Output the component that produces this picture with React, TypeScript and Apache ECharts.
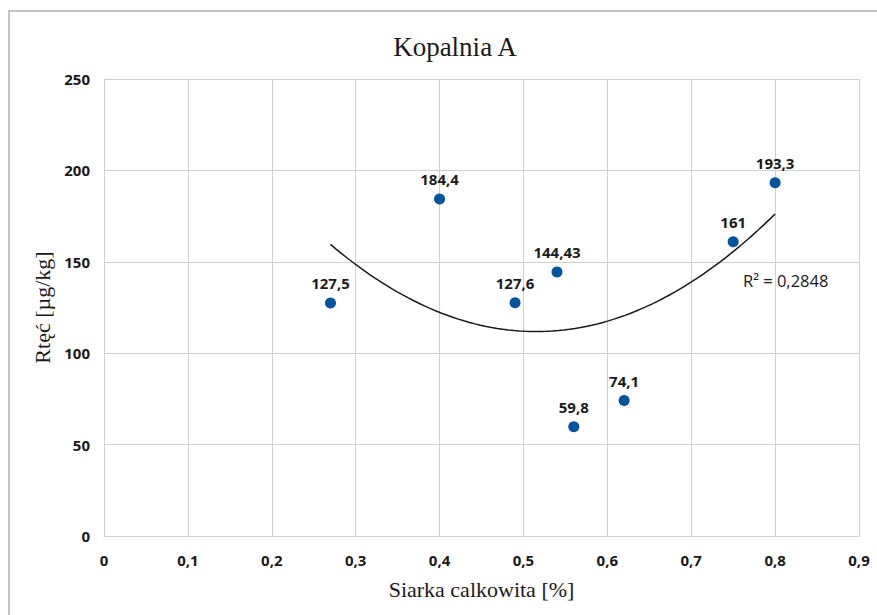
import React, { useEffect, useRef } from "react";
import * as echarts from "echarts";

const titleText = "Kopalnia A";
const xName = "Siarka calkowita [%]";
const yName = "Rtęć [µg/kg]";
const sulfur = [0.27, 0.4, 0.49, 0.54, 0.56, 0.62, 0.75, 0.8];
const mercury = [127.5, 184.4, 127.6, 144.43, 59.8, 74.1, 161, 193.3];
const pointLabels = ["127,5", "184,4", "127,6", "144,43", "59,8", "74,1", "161", "193,3"];
const r2Value = 0.2848;
const xTicks = { min: 0, max: 0.9, interval: 0.1 };
const yTicks = { min: 0, max: 250, interval: 50 };

function quadFit(xs: number[], ys: number[]) {
  let s0 = xs.length, s1 = 0, s2 = 0, s3 = 0, s4 = 0, t0 = 0, t1 = 0, t2 = 0;
  for (let i = 0; i < xs.length; i++) {
    const x = xs[i], y = ys[i];
    s1 += x; s2 += x * x; s3 += x * x * x; s4 += x * x * x * x;
    t0 += y; t1 += x * y; t2 += x * x * y;
  }
  const M = [
    [s0, s1, s2, t0],
    [s1, s2, s3, t1],
    [s2, s3, s4, t2],
  ];
  for (let i = 0; i < 3; i++) {
    let p = i;
    for (let r = i + 1; r < 3; r++) if (Math.abs(M[r][i]) > Math.abs(M[p][i])) p = r;
    [M[i], M[p]] = [M[p], M[i]];
    for (let r = 0; r < 3; r++) {
      if (r === i) continue;
      const f = M[r][i] / M[i][i];
      for (let c = i; c < 4; c++) M[r][c] -= f * M[i][c];
    }
  }
  return [M[0][3] / M[0][0], M[1][3] / M[1][1], M[2][3] / M[2][2]];
}

export default function App() {
  const ref = useRef<HTMLDivElement>(null);
  useEffect(() => {
    document.body.style.margin = "0";
    if (!ref.current) return;
    const chart = echarts.init(ref.current, null, { renderer: "svg" });
    const [a, b, c] = quadFit(sulfur, mercury);
    const xMin = Math.min(...sulfur);
    const xMax = Math.max(...sulfur);
    const trend: number[][] = [];
    const n = 80;
    for (let i = 0; i <= n; i++) {
      const x = xMin + ((xMax - xMin) * i) / n;
      trend.push([x, a + b * x + c * x * x]);
    }
    const comma = (v: number) => String(Math.round(v * 10) / 10).replace(".", ",");
    const tickFont = { fontFamily: "'Open Sans', sans-serif", fontWeight: "bold" as const, fontSize: 15, color: "#1a1a1a" };
    const grey = "#d0d0d0";
    chart.setOption({
      animation: false,
      backgroundColor: "#fff",
      title: {
        text: titleText,
        left: 450,
        textAlign: "center",
        top: 28,
        textStyle: { fontFamily: "'Liberation Serif', serif", fontWeight: "normal", fontSize: 27, color: "#1a1a1a" },
      },
      graphic: [
        {
          type: "rect",
          shape: { x: 9, y: 11, width: 900, height: 700 },
          style: { fill: "none", stroke: "#c4c4c4", lineWidth: 2 },
          silent: true,
        },
        {
          type: "text",
          x: 743,
          y: 280,
          style: {
            text: "R² = " + r2Value.toFixed(4).replace(".", ","),
            fontFamily: "'Open Sans', sans-serif",
            fontSize: 16.5,
            fill: "#1a1a1a",
            verticalAlign: "middle",
          },
        },
      ],
      grid: { left: 104, top: 79, right: 18, bottom: 79 },
      xAxis: {
        type: "value",
        min: xTicks.min,
        max: xTicks.max,
        interval: xTicks.interval,
        name: xName,
        nameLocation: "middle",
        nameGap: 42,
        nameTextStyle: { fontFamily: "'Liberation Serif', serif", fontSize: 22, color: "#1a1a1a" },
        axisLine: { show: true, lineStyle: { color: grey } },
        axisTick: { show: false },
        axisLabel: { ...tickFont, margin: 16, formatter: comma },
        splitLine: { show: true, lineStyle: { color: grey, width: 1 } },
      },
      yAxis: {
        type: "value",
        min: yTicks.min,
        max: yTicks.max,
        interval: yTicks.interval,
        name: yName,
        nameLocation: "middle",
        nameRotate: 90,
        nameGap: 46,
        nameTextStyle: { fontFamily: "'Liberation Serif', serif", fontSize: 22, color: "#1a1a1a" },
        axisLine: { show: true, lineStyle: { color: grey } },
        axisTick: { show: false },
        axisLabel: { ...tickFont, margin: 14, formatter: (v: number) => String(v) },
        splitLine: { show: true, lineStyle: { color: grey, width: 1 } },
      },
      series: [
        {
          type: "line",
          data: trend,
          showSymbol: false,
          smooth: false,
          lineStyle: { color: "#1a1a1a", width: 1.5 },
          silent: true,
          z: 2,
        },
        {
          type: "scatter",
          data: sulfur.map((x, i) => [x, mercury[i]]),
          symbolSize: 11,
          itemStyle: { color: "#00549f", opacity: 1 },
          label: {
            show: true,
            position: "top",
            distance: 7,
            formatter: (p: any) => pointLabels[p.dataIndex],
            ...tickFont,
            fontSize: 15,
          },
          z: 3,
        },
      ],
    });
    return () => chart.dispose();
  }, []);
  return <div ref={ref} style={{ width: 877, height: 615 }} />;
}
